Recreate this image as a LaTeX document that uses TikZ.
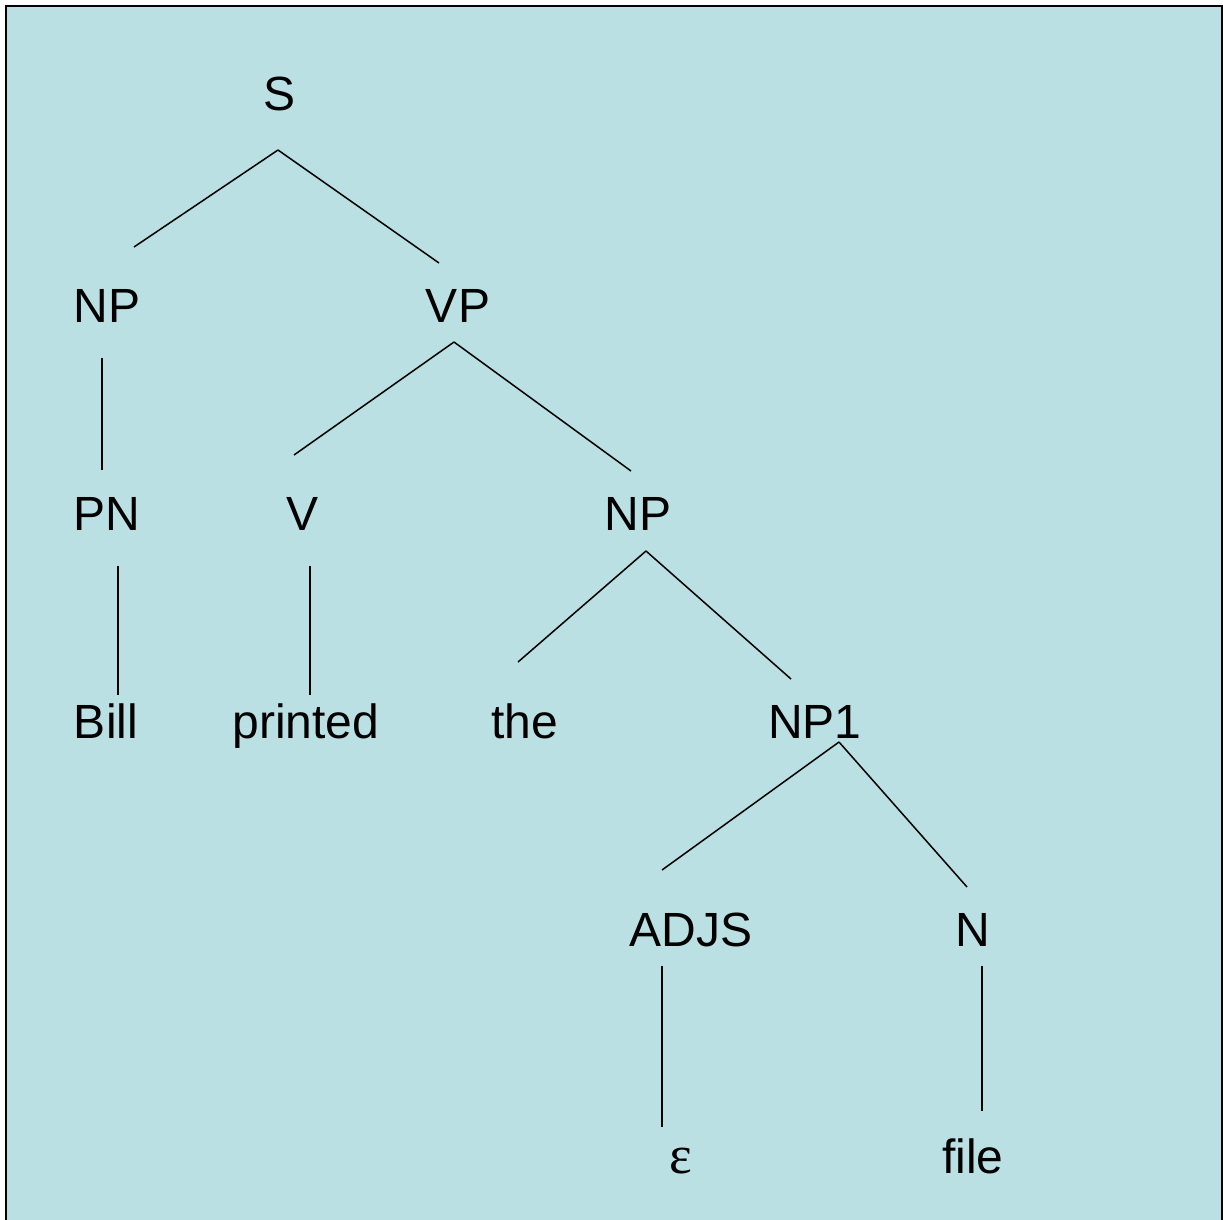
\documentclass[tikz,border=0pt]{standalone}
\usepackage{fontspec}
\setmainfont{Liberation Sans}
\newfontfamily\serifgreek{Liberation Serif}
\definecolor{panelbg}{RGB}{186,224,227}
\begin{document}
\begin{tikzpicture}[x=1pt,y=-1pt,
  lbl/.style={anchor=base,inner sep=0pt,font=\fontsize{48}{58}\selectfont},
  edge/.style={draw=black,line width=1.5pt}]
\useasboundingbox (0,0) rectangle (1223,1219);
\clip (0,0) rectangle (1223,1219);
\draw[fill=panelbg,draw=black,line width=2pt] (6,6) rectangle (1222,1250);

\node[lbl] (S)    at (280,110) {S};
\node[lbl] (NPa)  at (107,322) {NP};
\node[lbl] (VP)   at (458,322) {VP};
\node[lbl] (PN)   at (107,530) {PN};
\node[lbl] (V)    at (303,530) {V};
\node[lbl] (NPb)  at (638,530) {NP};
\node[lbl] (Bill) at (106,738) {Bill};
\node[lbl] (printed) at (306,738) {printed};
\node[lbl] (the)  at (525,738) {the};
\node[lbl] (NPc)  at (815,738) {NP1};
\node[lbl] (ADJS) at (691,946) {ADJS};
\node[lbl] (N)    at (973,946) {N};
\node[lbl,font=\serifgreek\fontsize{54}{60}\selectfont] (eps) at (681,1173) {ε};
\node[lbl] (file) at (973,1173) {file};

\draw[edge] ([shift={(-2,40)}]S.base) -- ([shift={(27,-75)}]NPa.base);
\draw[edge] ([shift={(-2,40)}]S.base) -- ([shift={(-19,-59)}]VP.base);
\draw[edge] ([shift={(-5,36)}]NPa.base) -- ([shift={(-5,-60)}]PN.base);
\draw[edge] ([shift={(-4,20)}]VP.base) -- ([shift={(-9,-75)}]V.base);
\draw[edge] ([shift={(-4,20)}]VP.base) -- ([shift={(-7,-59)}]NPb.base);
\draw[edge] ([shift={(11,36)}]PN.base) -- ([shift={(12,-43)}]Bill.base);
\draw[edge] ([shift={(7,36)}]V.base) -- ([shift={(4,-43)}]printed.base);
\draw[edge] ([shift={(8,21)}]NPb.base) -- ([shift={(-7,-76)}]the.base);
\draw[edge] ([shift={(8,21)}]NPb.base) -- ([shift={(-24,-59)}]NPc.base);
\draw[edge] ([shift={(24,4)}]NPc.base) -- ([shift={(-29,-76)}]ADJS.base);
\draw[edge] ([shift={(24,4)}]NPc.base) -- ([shift={(-6,-59)}]N.base);
\draw[edge] ([shift={(-29,20)}]ADJS.base) -- ([shift={(-19,-46)}]eps.base);
\draw[edge] ([shift={(9,20)}]N.base) -- ([shift={(9,-62)}]file.base);
\end{tikzpicture}
\end{document}
